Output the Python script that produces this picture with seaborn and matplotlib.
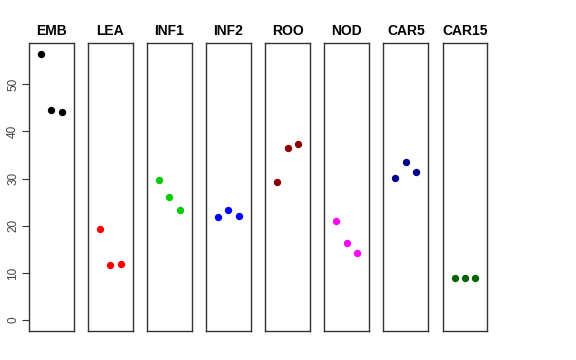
import numpy as np
import pandas as pd
import matplotlib
matplotlib.use("Agg")
import matplotlib.pyplot as plt
import seaborn as sns

#%% data
tissues = ["EMB", "LEA", "INF1", "INF2", "ROO", "NOD", "CAR5", "CAR15"]
reps = [1, 2, 3]
emb = [56.5, 44.5, 44.2]
lea = [19.4, 11.6, 11.8]
inf1 = [29.6, 26.1, 23.3]
inf2 = [21.8, 23.3, 22.0]
roo = [29.3, 36.4, 37.4]
nod = [21.0, 16.3, 14.3]
car5 = [30.2, 33.6, 31.4]
car15 = [9.0, 9.0, 9.0]
colors = ["black", "#FF0000", "#00CD00", "#0000FF", "#8B0000", "#FF00FF", "#00008B", "#006400"]

values = [emb, lea, inf1, inf2, roo, nod, car5, car15]
df = pd.DataFrame({
    "tissue": np.repeat(tissues, len(reps)),
    "rep": reps * len(tissues),
    "value": np.concatenate(values),
})

#%% plot
sns.set_style("white")
plt.rcParams["font.family"] = ["Liberation Sans", "DejaVu Sans"]
plt.rcParams["text.color"] = "black"
plt.rcParams["ytick.color"] = "black"

fig, axes = plt.subplots(1, len(tissues), figsize=(5.76, 3.6), dpi=100, sharey=True)
fig.subplots_adjust(left=0.050, right=0.846, bottom=0.081, top=0.881, wspace=0.32)

ymax = max(max(v) for v in values)
pad = 0.04 * ymax
for ax, name, col in zip(axes, tissues, colors):
    sub = df[df["tissue"] == name]
    sns.scatterplot(data=sub, x="rep", y="value", color=col, s=28, linewidth=0, ax=ax)
    ax.set_xlim(-0.16, 4.16)
    ax.set_ylim(-pad, ymax + pad)
    ax.set_xticks([])
    ax.set_xlabel("")
    ax.set_ylabel("")
    ax.set_title(name, fontsize=10, fontweight="bold", color="black", pad=6)
    for sp in ax.spines.values():
        sp.set_visible(True)
        sp.set_color("#333333")
        sp.set_linewidth(1.0)

axes[0].set_yticks([0, 10, 20, 30, 40, 50])
axes[0].tick_params(axis="y", left=True, length=5, width=0.8, labelsize=8.5,
                    pad=2, colors="#333333", labelcolor="#444444")
for lab in axes[0].get_yticklabels():
    lab.set_rotation(90)
    lab.set_va("center")
for ax in axes[1:]:
    ax.tick_params(axis="y", left=False, labelleft=False)

plt.savefig("out.png", dpi=100)
